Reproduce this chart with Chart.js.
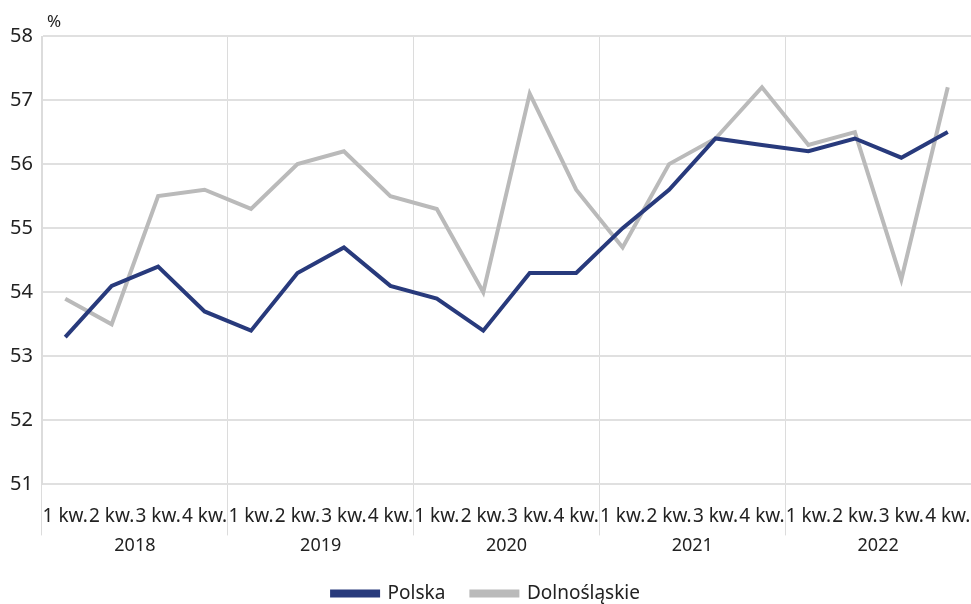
<!DOCTYPE html>
<html>
<head>
<meta charset="utf-8">
<script src="https://cdn.jsdelivr.net/npm/chart.js@4.4.1/dist/chart.umd.min.js"></script>
<style>
  html, body { margin: 0; padding: 0; background: #fff; }
  #wrap { width: 971px; height: 604px; }
</style>
</head>
<body>
<div id="wrap"><canvas id="chart"></canvas></div>
<script>
// quarters 2018-2022
var quarters = ['1 kw.', '2 kw.', '3 kw.', '4 kw.',
                '1 kw.', '2 kw.', '3 kw.', '4 kw.',
                '1 kw.', '2 kw.', '3 kw.', '4 kw.',
                '1 kw.', '2 kw.', '3 kw.', '4 kw.',
                '1 kw.', '2 kw.', '3 kw.', '4 kw.']
var years = ['2018', '2019', '2020', '2021', '2022']
var polska = [53.3, 54.1, 54.4, 53.7, 53.4, 54.3, 54.7, 54.1, 53.9, 53.4,
              54.3, 54.3, 55.0, 55.6, 56.4, 56.3, 56.2, 56.4, 56.1, 56.5]
var dolnoslaskie = [53.9, 53.5, 55.5, 55.6, 55.3, 56.0, 56.2, 55.5, 55.3, 54.0,
                    57.1, 55.6, 54.7, 56.0, 56.4, 57.2, 56.3, 56.5, 54.2, 57.2]
var yTicks = [51, 52, 53, 54, 55, 56, 57, 58]

var navy = '#283a7c'
var grey = '#bababa'
var fontFam = '"Noto Sans", "DejaVu Sans", sans-serif'

// "%" unit label above the y axis
var unitLabel = {
  id: 'unitLabel',
  afterDraw: function(chart) {
    var ctx = chart.ctx
    ctx.save()
    ctx.font = '17px ' + fontFam
    ctx.fillStyle = '#222'
    ctx.textAlign = 'left'
    ctx.textBaseline = 'alphabetic'
    ctx.fillText('%', chart.chartArea.left + 5, chart.chartArea.top - 9)
    ctx.restore()
  }
}

var ctx = document.getElementById('chart').getContext('2d')
new Chart(ctx, {
  type: 'line',
  data: {
    labels: quarters,
    datasets: [
      {
        label: 'Polska',
        data: polska,
        borderColor: navy,
        backgroundColor: navy,
        borderWidth: 4,
        pointRadius: 0,
        tension: 0
      },
      {
        label: 'Dolnośląskie',
        data: dolnoslaskie,
        borderColor: grey,
        backgroundColor: grey,
        borderWidth: 4,
        pointRadius: 0,
        tension: 0
      }
    ]
  },
  options: {
    responsive: true,
    maintainAspectRatio: false,
    animation: false,
    layout: { padding: { top: 36, right: -1, left: 0, bottom: -9 } },
    plugins: {
      legend: {
        position: 'bottom',
        labels: {
          boxWidth: 46,
          boxHeight: 4,
          padding: 26,
          color: '#222',
          font: { family: fontFam, size: 19 }
        }
      },
      tooltip: { enabled: false }
    },
    scales: {
      x: {
        offset: true,
        afterFit: function(s) { s.height = 42 },
        grid: {
          offset: true,
          tickLength: 51,
          color: function(c) { return c.index % 4 === 0 ? '#dcdcdc' : 'rgba(0,0,0,0)' },
          lineWidth: 1
        },
        border: { display: false },
        ticks: {
          autoSkip: false,
          maxRotation: 0,
          minRotation: 0,
          padding: -30,
          color: '#222',
          font: { family: fontFam, size: 19 }
        }
      },
      year: {
        type: 'category',
        position: 'bottom',
        labels: years,
        offset: true,
        grid: { display: false },
        border: { display: false },
        ticks: {
          padding: 1,
          color: '#222',
          font: { family: fontFam, size: 18 }
        }
      },
      y: {
        min: 51,
        max: 58,
        afterFit: function(s) { s.width = 42 },
        afterBuildTicks: function(s) { s.ticks = yTicks.map(function(v) { return { value: v } }) },
        grid: { color: '#e0e0e0', lineWidth: 2, drawTicks: false },
        border: { display: true, color: '#dcdcdc', width: 1 },
        ticks: {
          padding: 9,
          color: '#222',
          font: { family: fontFam, size: 20 }
        }
      }
    }
  },
  plugins: [unitLabel]
})
</script>
</body>
</html>
